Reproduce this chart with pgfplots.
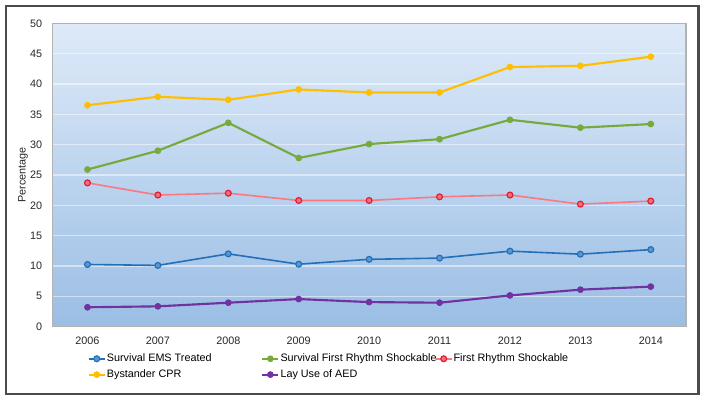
\documentclass[border=0pt]{standalone}
\usepackage{fontspec}
\setmainfont{Liberation Sans}
\usepackage{pgfplots}
\pgfplotsset{compat=1.18}
\definecolor{cBlue}{RGB}{35,112,185}
\definecolor{cBlueL}{RGB}{90,150,210}
\definecolor{cGreen}{RGB}{118,170,60}
\definecolor{cRedL}{RGB}{250,120,130}
\definecolor{cRed}{RGB}{225,30,50}
\definecolor{cRedF}{RGB}{245,110,120}
\definecolor{cYellow}{RGB}{255,190,0}
\definecolor{cPurple}{RGB}{112,50,160}
\definecolor{bgTop}{RGB}{222,234,248}
\definecolor{bgBot}{RGB}{155,190,229}
\definecolor{frameC}{RGB}{75,75,75}
\begin{document}
\begin{tikzpicture}[x=1pt,y=1pt]
\path[use as bounding box] (0,0) rectangle (528,300);
\draw[line width=1.6pt, color=frameC] (4.6,4.6) rectangle (523.9,295.7);
\begin{axis}[
  at={(39.2pt,55pt)}, anchor=south west,
  scale only axis, width=475.3pt, height=227.5pt,
  xmin=-0.5, xmax=8.5, ymin=0, ymax=50,
  ytick={0,5,...,50}, xtick={0,...,8},
  xticklabels={2006,2007,2008,2009,2010,2011,2012,2013,2014},
  major tick length=0pt, tick style={draw=none},
  ymajorgrids, grid style={white, opacity=0.5, line width=0.8pt},
  axis line style={draw=black!30, line width=0.9pt},
  axis background/.style={top color=bgTop, bottom color=bgBot},
  ticklabel style={font=\fontsize{8.1}{9.7}\selectfont, text=black!85},
  yticklabel style={xshift=-4pt},
  xticklabel style={yshift=-4pt},
  /pgf/number format/assume math mode=true,
  ylabel={Percentage},
  every axis y label/.style={at={(axis description cs:-0.0463,0.5)}, rotate=90, anchor=center, font=\fontsize{8.1}{9.7}\selectfont, text=black!85},
  legend columns=3,
  legend cell align=left,
  legend image code/.code={\draw[mark repeat=2,mark phase=2] plot coordinates {(0pt,0pt)(6pt,0pt)(12pt,0pt)};},
  legend style={draw=none, fill=none, at={(axis description cs:0.0555,-0.08)}, anchor=north west,
    font=\fontsize{8.1}{9.7}\selectfont, inner sep=0pt, row sep=0.5pt,
    nodes={inner xsep=0.8pt},
    /tikz/every even column/.append style={column sep=0pt}},
  mark size=2.2pt,
]
\addplot[cBlue, line width=1.2pt, mark=*, mark options={draw=cBlue, fill=cBlueL, line width=0.9pt}] coordinates {
(0,10.25) (1,10.1) (2,12.0) (3,10.3) (4,11.1) (5,11.3) (6,12.45) (7,11.95) (8,12.7)};
\addlegendentry{\makebox[115pt][l]{Survival EMS Treated}}
\addplot[cGreen, line width=1.6pt, mark=*, mark options={draw=cGreen, fill=cGreen, line width=0.6pt}] coordinates {
(0,25.9) (1,29.0) (2,33.6) (3,27.8) (4,30.1) (5,30.9) (6,34.1) (7,32.8) (8,33.4)};
\addlegendentry{\makebox[115pt][l]{Survival First Rhythm Shockable}}
\addplot[cRedL, line width=1.2pt, mark=*, mark options={draw=cRed, fill=cRedF, line width=0.9pt}] coordinates {
(0,23.7) (1,21.7) (2,22.0) (3,20.8) (4,20.8) (5,21.4) (6,21.7) (7,20.2) (8,20.7)};
\addlegendentry{First Rhythm Shockable}
\addplot[cYellow, line width=1.6pt, mark=*, mark options={draw=cYellow, fill=cYellow, line width=0.6pt}] coordinates {
(0,36.5) (1,37.9) (2,37.4) (3,39.1) (4,38.6) (5,38.6) (6,42.8) (7,43.0) (8,44.5)};
\addlegendentry{\makebox[115pt][l]{Bystander CPR}}
\addplot[cPurple, line width=1.6pt, mark=*, mark options={draw=cPurple, fill=cPurple, line width=0.6pt}] coordinates {
(0,3.2) (1,3.35) (2,3.95) (3,4.55) (4,4.05) (5,3.95) (6,5.15) (7,6.1) (8,6.6)};
\addlegendentry{\makebox[115pt][l]{Lay Use of AED}}
\end{axis}
\end{tikzpicture}
\end{document}
